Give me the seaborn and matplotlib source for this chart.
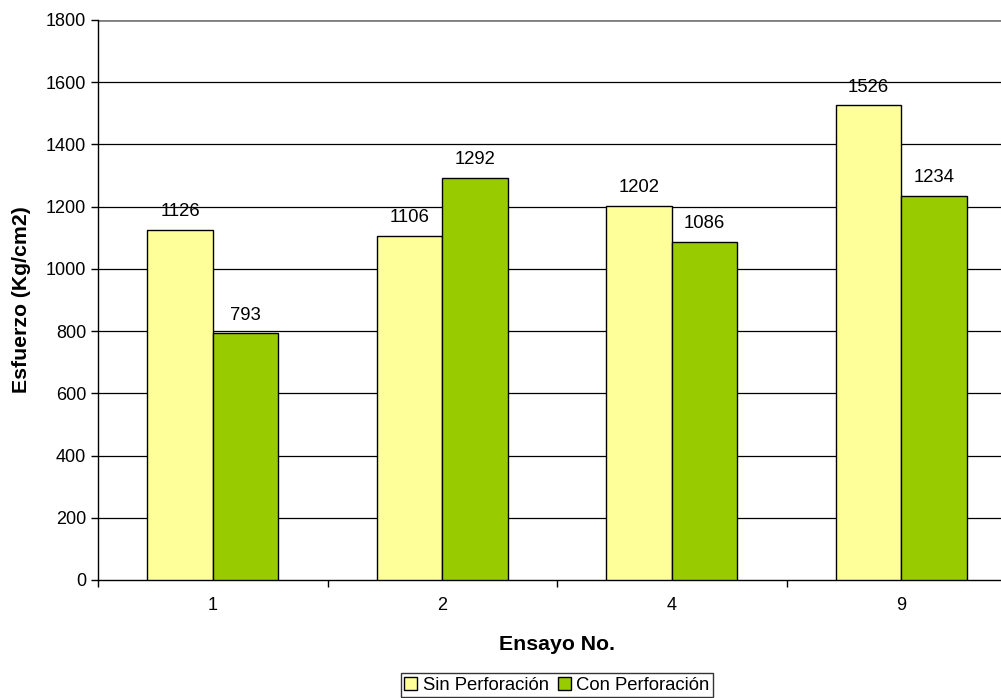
import pandas as pd
import numpy as np
import seaborn as sns
import matplotlib.pyplot as plt
from matplotlib.patches import Patch

ensayos = ['1', '2', '4', '9']
sin_perforacion = [1126, 1106, 1202, 1526]
con_perforacion = [793, 1292, 1086, 1234]
series = ['Sin Perforación', 'Con Perforación']
colores = ['#FFFF99', '#99CC00']

df = pd.DataFrame({
    'Ensayo': ensayos * 2,
    'Esfuerzo': sin_perforacion + con_perforacion,
    'Serie': [series[0]] * 4 + [series[1]] * 4,
})

sns.set_style('white')
plt.rcParams['font.family'] = ['Liberation Sans', 'DejaVu Sans']
plt.rcParams['text.color'] = 'black'
plt.rcParams['axes.labelcolor'] = 'black'
plt.rcParams['xtick.color'] = 'black'
plt.rcParams['ytick.color'] = 'black'

fig = plt.figure(figsize=(10.01, 6.98), dpi=100)
ax = fig.add_axes([98 / 1001, 1 - 580 / 698, (1016 - 98) / 1001, 560 / 698])

sns.barplot(data=df, x='Ensayo', y='Esfuerzo', hue='Serie', order=ensayos,
            hue_order=series, palette=colores, width=0.57, gap=0,
            edgecolor='black', linewidth=1, saturation=1, ax=ax, legend=False, zorder=3)

for cont in ax.containers:
    ax.bar_label(cont, fmt='%d', padding=7, fontsize=13.3, color='black')

ax.set_xlim(-0.5, 3.5)
ax.set_ylim(0, 1800)
ax.set_yticks(np.arange(0, 1801, 200))
ax.tick_params(axis='y', labelsize=13, length=5, width=1, color='black', direction='out', left=True)
ax.set_xticks(np.arange(4))
ax.set_xticks(np.arange(-0.5, 4, 1), minor=True)
ax.tick_params(axis='x', which='major', length=0, labelsize=13, pad=12)
ax.tick_params(axis='x', which='minor', length=5, width=1, color='black', direction='out', bottom=True)

for v in range(200, 1800, 200):
    ax.axhline(v, color='black', lw=0.9, zorder=1)
ax.axhline(1800, color='#808080', lw=2, zorder=1)

for s in ['top', 'right']:
    ax.spines[s].set_visible(False)
ax.spines['left'].set_color('black')
ax.spines['bottom'].set_color('black')
ax.spines['left'].set_linewidth(1)
ax.spines['bottom'].set_linewidth(1)

ax.set_xlabel('Ensayo No.', fontsize=15.3, fontweight='bold', labelpad=15)
ax.set_ylabel('Esfuerzo (Kg/cm2)', fontsize=15.3, fontweight='bold', labelpad=11)

handles = [Patch(facecolor=c, edgecolor='black', lw=1) for c in colores]
fig.legend(handles, series, loc='center', bbox_to_anchor=(557 / 1001, 1 - 685 / 698),
           ncol=2, frameon=True, fancybox=False, edgecolor='black', fontsize=13.3,
           handlelength=0.7, handleheight=0.7, handletextpad=0.3, columnspacing=0.5,
           borderpad=0.2, borderaxespad=0)

fig.savefig('out.png', dpi=100)
